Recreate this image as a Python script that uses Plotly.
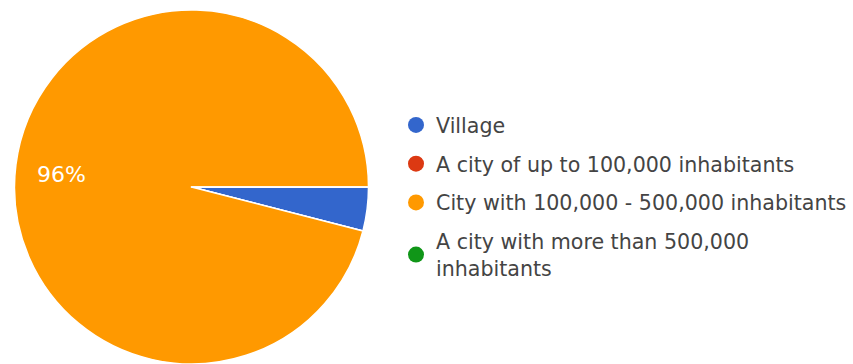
import plotly.graph_objects as go

# Survey answers: place of residence
categories = [
    "Village",
    "A city of up to 100,000 inhabitants",
    "City with 100,000 - 500,000 inhabitants",
    "A city with more than 500,000 inhabitants",
]
legend_labels = [
    "Village",
    "A city of up to 100,000 inhabitants",
    "City with 100,000 - 500,000 inhabitants",
    "A city with more than 500,000<br>inhabitants",
]
responses = [1, 0, 24, 0]
colors = ["#3366cc", "#dc3912", "#ff9900", "#109618"]

W, H = 853, 364
FONT = "DejaVu Sans"

fig = go.Figure()

# the pie itself (first slice starts at 3 o'clock, running clockwise)
fig.add_trace(go.Pie(
    labels=categories,
    values=responses,
    sort=False,
    direction="clockwise",
    rotation=90,
    marker=dict(colors=colors, line=dict(color="white", width=1.5)),
    textinfo="none",
    showlegend=False,
    hoverinfo="label+percent",
    domain=dict(x=[14.5 / W, 368.5 / W], y=[0, 354 / H]),
))

# percentage label of the dominant slice
total = sum(responses)
big = max(range(len(responses)), key=lambda i: responses[i])
fig.add_annotation(
    x=61 / W, y=(H - 175) / H, xref="paper", yref="paper",
    text=f"{round(100 * responses[big] / total)}%",
    showarrow=False, xanchor="center", yanchor="middle",
    font=dict(family=FONT, size=22, color="white"),
)

# round legend markers, one entry per category
for lab, col in zip(legend_labels, colors):
    fig.add_trace(go.Scatter(
        x=[None], y=[None], mode="markers", name=lab,
        marker=dict(color=col, size=20, symbol="circle"),
        legendgroup=lab, showlegend=True,
    ))

fig.update_layout(
    width=W, height=H,
    margin=dict(l=0, r=0, t=0, b=0, autoexpand=False),
    paper_bgcolor="white", plot_bgcolor="white",
    xaxis=dict(visible=False), yaxis=dict(visible=False),
    legend=dict(
        x=396 / W, xanchor="left",
        y=(H - 105) / H, yanchor="top",
        font=dict(family=FONT, size=20.6, color="#444444"),
        tracegroupgap=9,
        itemsizing="trace",
        bgcolor="rgba(0,0,0,0)",
    ),
)

fig.write_html("out.html")
